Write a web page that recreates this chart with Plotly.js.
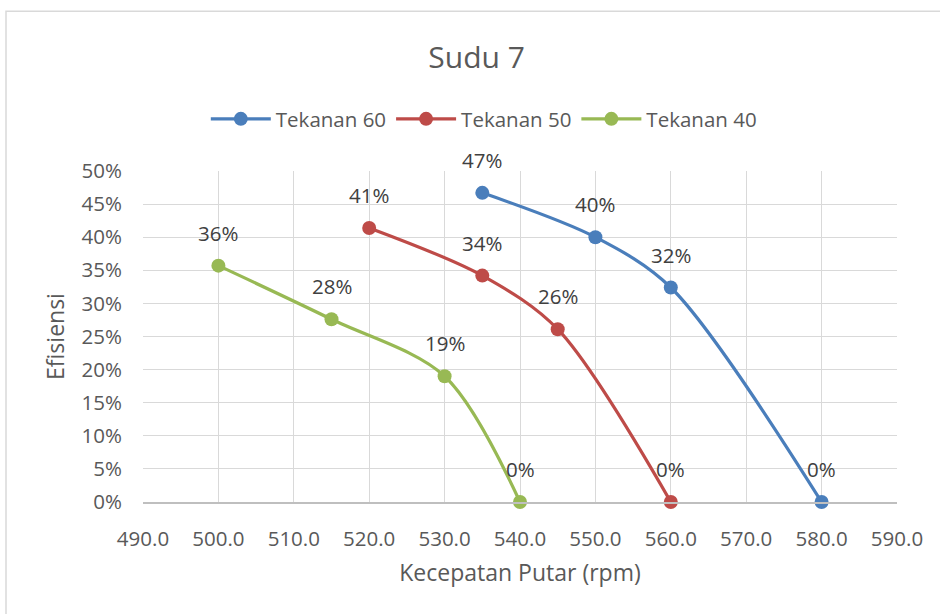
<!DOCTYPE html>
<html>
<head>
<meta charset="utf-8">
<script src="https://cdn.plot.ly/plotly-3.0.1.min.js"></script>
<style>html,body{margin:0;padding:0;background:#fff;}</style>
</head>
<body>
<div id="chart" style="width:940px;height:614px;"></div>
<script>
// Data
const seriesNames = ["Tekanan 60", "Tekanan 50", "Tekanan 40"];
const x60 = [535, 550, 560, 580];
const y60 = [0.467, 0.400, 0.324, 0.0];
const x50 = [520, 535, 545, 560];
const y50 = [0.414, 0.342, 0.261, 0.0];
const x40 = [500, 515, 530, 540];
const y40 = [0.357, 0.276, 0.190, 0.0];
const xTickVals = [490, 500, 510, 520, 530, 540, 550, 560, 570, 580, 590];

const colors = ["#4A7EBB", "#BE4B48", "#98B954"];
const xs = [x60, x50, x40];
const ys = [y60, y50, y40];
const font = "Open Sans, Noto Sans, sans-serif";

const traces = xs.map((xv, i) => ({
  x: xv, y: ys[i], name: seriesNames[i], type: "scatter", mode: "lines+markers",
  line: {color: colors[i], width: 3.2, shape: "spline", smoothing: 0.9},
  marker: {color: colors[i], size: 14},
  cliponaxis: false
}));

const annotations = [];
xs.forEach((xv, i) => {
  xv.forEach((xx, j) => {
    annotations.push({
      x: xx, y: ys[i][j], xref: "x", yref: "y",
      text: Math.round(ys[i][j] * 100) + "%",
      showarrow: false, yshift: 33,
      font: {family: font, size: 20.5, color: "#404040"}
    });
  });
});

const layout = {
  width: 940, height: 614,
  margin: {l: 143, r: 43, t: 171, b: 112},
  paper_bgcolor: "#ffffff", plot_bgcolor: "#ffffff",
  font: {family: font, color: "#595959"},
  title: {text: "Sudu 7", font: {family: font, size: 30, color: "#595959"},
          x: 0.507, xanchor: "center", y: 0.907, yanchor: "middle", xref: "container", yref: "container"},
  showlegend: true,
  legend: {orientation: "h", x: 0.452, xanchor: "center", y: 1.157, yanchor: "middle",
           font: {family: font, size: 20.5, color: "#595959"}, itemwidth: 60, traceorder: "normal"},
  xaxis: {
    range: [490, 590], tickvals: xTickVals, tickformat: ".1f",
    showgrid: true, gridcolor: "#d9d9d9", gridwidth: 1.3,
    showline: true, linecolor: "#bfbfbf", linewidth: 1.5,
    zeroline: false, ticks: "", ticklabelstandoff: 18,
    tickfont: {family: font, size: 20.5, color: "#595959"},
    title: {text: "Kecepatan Putar (rpm)", font: {family: font, size: 23, color: "#595959"}, standoff: 14}
  },
  yaxis: {
    range: [0, 0.5], dtick: 0.05, tick0: 0, tickformat: ".0%",
    showgrid: true, gridcolor: "#d9d9d9", gridwidth: 1.3,
    showline: false, zeroline: false, ticks: "", ticklabelstandoff: 20,
    tickfont: {family: font, size: 20.5, color: "#595959"},
    title: {text: "Efisiensi", font: {family: font, size: 23, color: "#595959"}, standoff: 10}
  },
  annotations: annotations,
  shapes: [{
    type: "rect", xref: "paper", yref: "paper",
    x0: -0.1817, x1: 2, y0: -1, y1: 1.483,
    line: {color: "#d9d9d9", width: 1.5}, fillcolor: "rgba(0,0,0,0)", layer: "below"
  }]
};

Plotly.newPlot("chart", traces, layout, {displayModeBar: false, responsive: false});
</script>
</body>
</html>
